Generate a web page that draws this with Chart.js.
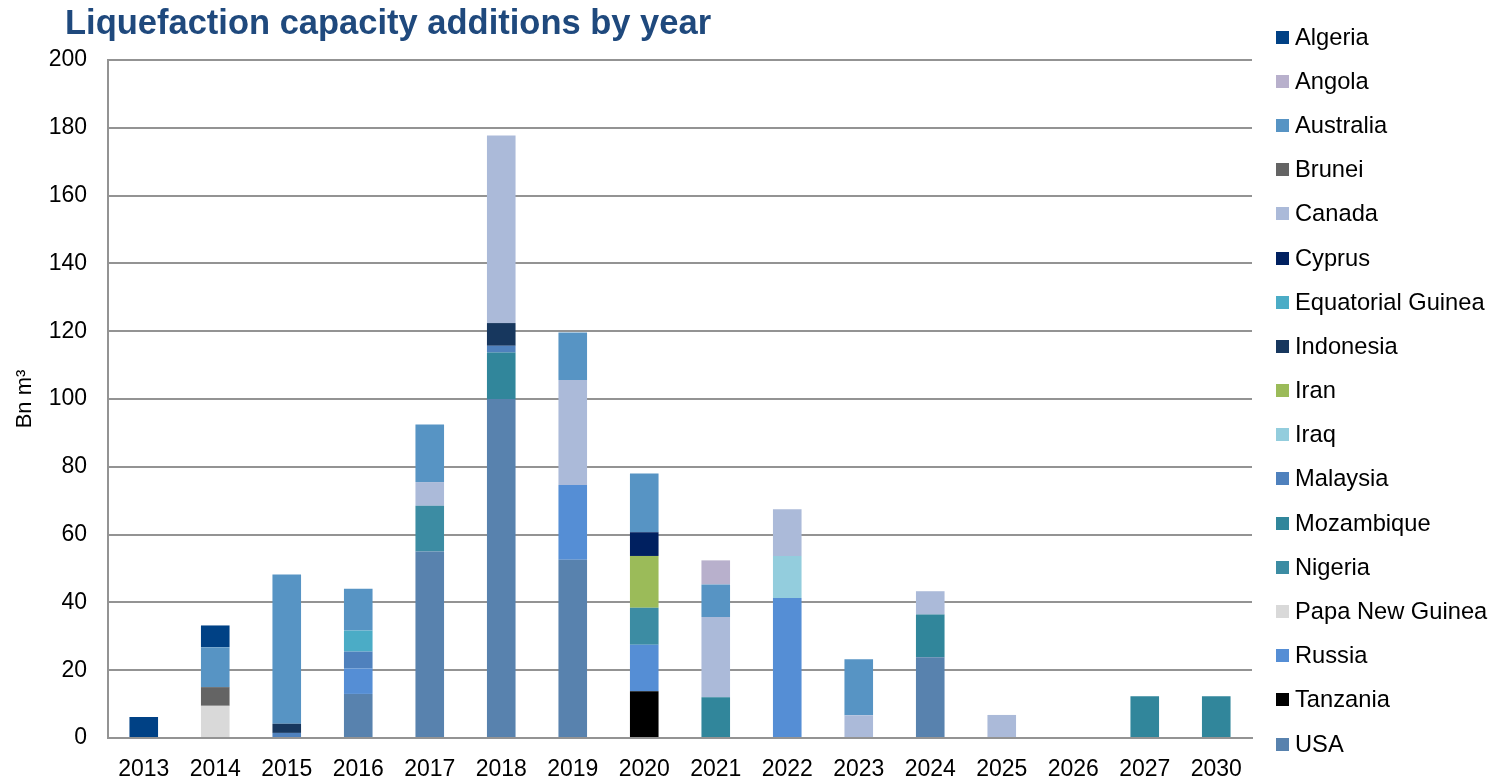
<!DOCTYPE html>
<html>
<head>
<meta charset="utf-8">
<title>Liquefaction capacity additions by year</title>
<script src="https://cdn.jsdelivr.net/npm/chart.js@4/dist/chart.umd.min.js"></script>
<style>
  html, body { margin: 0; padding: 0; background: #fff; }
  #wrap { position: relative; width: 1499px; height: 781px; overflow: hidden;
          font-family: 'Liberation Sans', Arial, sans-serif; }
  #title { position: absolute; left: 65px; top: 5px; margin: 0;
           font-size: 34.5px; line-height: 34px; font-weight: bold; color: #1f497d; white-space: nowrap; }
  #legend { position: absolute; left: 1276px; top: 15px; margin: 0; padding: 0; list-style: none; }
  #legend li { height: 44.2px; display: flex; align-items: center; font-size: 23.7px; color: #000; white-space: nowrap; }
  #legend span { display: inline-block; width: 13px; height: 13px; margin-right: 6px; }
  canvas { position: absolute; left: 0; top: 0; }
</style>
</head>
<body>
<div id="wrap">
  <canvas id="chart" width="1499" height="781"></canvas>
  <h1 id="title">Liquefaction capacity additions by year</h1>
  <ul id="legend"></ul>
</div>
<script>
/* ---------- data (Bn m³ per year) ---------- */
const years = ['2013', '2014', '2015', '2016', '2017', '2018', '2019', '2020',
               '2021', '2022', '2023', '2024', '2025', '2026', '2027', '2030'];

//                  2013 2014 2015  2016 2017  2018  2019  2020  2021  2022  2023  2024 2025 2026  2027  2030
const algeria    = [6.2, 6.4, 0,    0,   0,    0,    0,    0,    0,    0,    0,    0,   0,   0,    0,    0];
const angola     = [0,   0,   0,    0,   0,    0,    0,    0,    7.1,  0,    0,    0,   0,   0,    0,    0];
const australia  = [0,   11.8, 44,  12.3, 17,  0,    14,   17.3, 9.6,  0,    16.5, 0,   0,   0,    0,    0];
const brunei     = [0,   5.5, 0,    0,   0,    0,    0,    0,    0,    0,    0,    0,   0,   0,    0,    0];
const canada     = [0,   0,   0,    0,   7,    55.3, 31,   0,    23.7, 13.8, 6.7,  6.9, 6.8, 0,    0,    0];
const cyprus     = [0,   0,   0,    0,   0,    0,    0,    7,    0,    0,    0,    0,   0,   0,    0,    0];
const eqGuinea   = [0,   0,   0,    6.2, 0,    0,    0,    0,    0,    0,    0,    0,   0,   0,    0,    0];
const indonesia  = [0,   0,   2.7,  0,   0,    6.7,  0,    0,    0,    0,    0,    0,   0,   0,    0,    0];
const iran       = [0,   0,   0,    0,   0,    0,    0,    15.3, 0,    0,    0,    0,   0,   0,    0,    0];
const iraq       = [0,   0,   0,    0,   0,    0,    0,    0,    0,    12.4, 0,    0,   0,   0,    0,    0];
const malaysia   = [0,   0,   1.5,  5,   0,    2,    0,    0,    0,    0,    0,    0,   0,   0,    0,    0];
const mozambique = [0,   0,   0,    0,   0,    13.7, 0,    0,    12,   0,    0,    12.6, 0,  0,    12.3, 12.3];
const nigeria    = [0,   0,   0,    0,   13.5, 0,    0,    10.9, 0,    0,    0,    0,   0,   0,    0,    0];
const papuaNG    = [0,   9.5, 0,    0,   0,    0,    0,    0,    0,    0,    0,    0,   0,   0,    0,    0];
const russia     = [0,   0,   0,    7.5, 0,    0,    22,   13.7, 0,    41.3, 0,    0,   0,   0,    0,    0];
const tanzania   = [0,   0,   0,    0,   0,    0,    0,    13.8, 0,    0,    0,    0,   0,   0,    0,    0];
const usa        = [0,   0,   0,    13,  55,   100,  52.6, 0,    0,    0,    0,    23.8, 0,  0,    0,    0];

/* ---------- series: bottom of the stack first ---------- */
const series = [
  { label: 'USA',               data: usa,        color: '#5882ae' },
  { label: 'Tanzania',          data: tanzania,   color: '#000000' },
  { label: 'Russia',            data: russia,     color: '#558ed5' },
  { label: 'Papa New Guinea',   data: papuaNG,    color: '#d9d9d9' },
  { label: 'Nigeria',           data: nigeria,    color: '#3c8ca3' },
  { label: 'Mozambique',        data: mozambique, color: '#31869b' },
  { label: 'Malaysia',          data: malaysia,   color: '#4f81bd' },
  { label: 'Iraq',              data: iraq,       color: '#93cddd' },
  { label: 'Iran',              data: iran,       color: '#9bbb59' },
  { label: 'Indonesia',         data: indonesia,  color: '#17375e' },
  { label: 'Equatorial Guinea', data: eqGuinea,   color: '#4bacc6' },
  { label: 'Cyprus',            data: cyprus,     color: '#002060' },
  { label: 'Canada',            data: canada,     color: '#abbad9' },
  { label: 'Brunei',            data: brunei,     color: '#646464' },
  { label: 'Australia',         data: australia,  color: '#5794c4' },
  { label: 'Angola',            data: angola,     color: '#b8b0cc' },
  { label: 'Algeria',           data: algeria,    color: '#004185' }
];

/* ---------- chart ---------- */
Chart.defaults.font.family = "'Liberation Sans', Arial, sans-serif";
Chart.defaults.color = '#000';

const gridGray = '#939393';

const chart = new Chart(document.getElementById('chart'), {
  type: 'bar',
  data: {
    labels: years,
    datasets: series.map(s => ({
      label: s.label,
      data: s.data,
      backgroundColor: s.color,
      borderWidth: 0,
      barPercentage: 0.4,
      categoryPercentage: 1
    }))
  },
  options: {
    responsive: false,
    devicePixelRatio: 1,
    animation: false,
    layout: { padding: { top: 60, right: 247, bottom: 0, left: 0 } },
    plugins: {
      legend: { display: false },
      title: { display: false },
      tooltip: { enabled: false }
    },
    scales: {
      x: {
        stacked: true,
        grid: { display: false, drawTicks: false },
        border: { display: true, color: gridGray, width: 2 },
        ticks: { font: { size: 23 }, padding: 18, maxRotation: 0, autoSkip: false },
        afterFit: s => { s.height = 43; }
      },
      y: {
        stacked: true,
        min: 0,
        max: 200,
        grid: { color: gridGray, lineWidth: 2, drawTicks: false },
        border: { display: true, color: gridGray, width: 2 },
        ticks: { stepSize: 20, font: { size: 23 }, padding: 21 },
        title: { display: true, text: 'Bn m³', font: { size: 22 }, padding: { top: 12, bottom: 0 } },
        afterFit: s => { s.width = 108; }
      }
    }
  }
});

/* ---------- legend, top to bottom ---------- */
const legendEl = document.getElementById('legend');
legendEl.innerHTML = chart.data.datasets.slice().reverse()
  .map(ds => `<li><span style="background:${ds.backgroundColor}"></span>${ds.label}</li>`)
  .join('');
</script>
</body>
</html>
